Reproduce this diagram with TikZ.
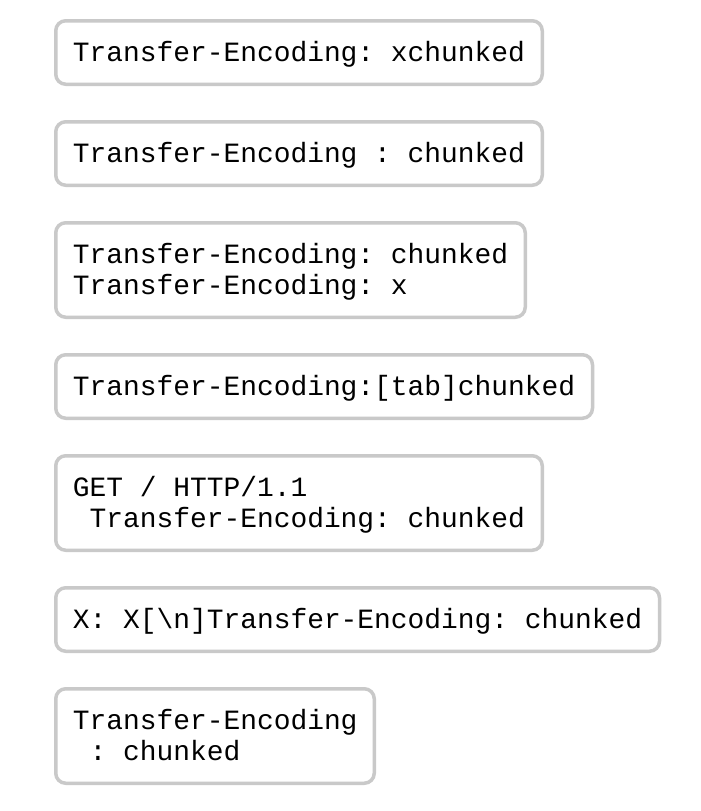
\documentclass[tikz,border=0pt]{standalone}
\usepackage{fontspec}
\newfontfamily\codefont{Liberation Mono}
\definecolor{boxgray}{RGB}{201,201,201}
\begin{document}
\begin{tikzpicture}[x=1pt,y=-1pt,
  box/.style={draw=boxgray, line width=3.5pt, rounded corners=10pt, inner sep=0pt, outer sep=0pt, anchor=north west, fill=white},
  code/.style={font=\codefont\fontsize{27.9}{31}\selectfont\frenchspacing, inner sep=0pt, outer sep=0pt, anchor=base west, text=black}]
\useasboundingbox[fill=white] (0,0) rectangle (701,811);
% boxes
\node[box, minimum width=486.5pt, minimum height=63.5pt] (b1) at (55.75,20.75) {};
\node[box, minimum width=486.5pt, minimum height=63.5pt] (b2) at (55.75,121.75) {};
\node[box, minimum width=469.5pt, minimum height=94.5pt] (b3) at (55.75,222.75) {};
\node[box, minimum width=536.75pt, minimum height=63.5pt] (b4) at (55.75,354.75) {};
\node[box, minimum width=486.5pt, minimum height=94.5pt] (b5) at (55.75,455.75) {};
\node[box, minimum width=603.75pt, minimum height=63.5pt] (b6) at (55.75,587.75) {};
\node[box, minimum width=318.5pt, minimum height=94.5pt] (b7) at (55.75,688.75) {};
% texts
\node[code] (t1) at (72.9,61) {Transfer-Encoding: xchunked};
\node[code] (t2) at (72.9,162) {Transfer-Encoding : chunked};
\node[code] (t3a) at (72.9,263) {Transfer-Encoding: chunked};
\node[code] (t3b) at (72.9,294) {Transfer-Encoding: x};
\node[code] (t4) at (72.9,395) {Transfer-Encoding:[tab]chunked};
\node[code] (t5a) at (72.9,496) {GET / HTTP/1.1};
\node[code] (t5b) at (72.9,527) {\ Transfer-Encoding: chunked};
\node[code] (t6) at (72.9,628) {X: X[\textbackslash n]Transfer-Encoding: chunked};
\node[code] (t7a) at (72.9,729) {Transfer-Encoding};
\node[code] (t7b) at (72.9,760) {\ : chunked};
\end{tikzpicture}
\end{document}
